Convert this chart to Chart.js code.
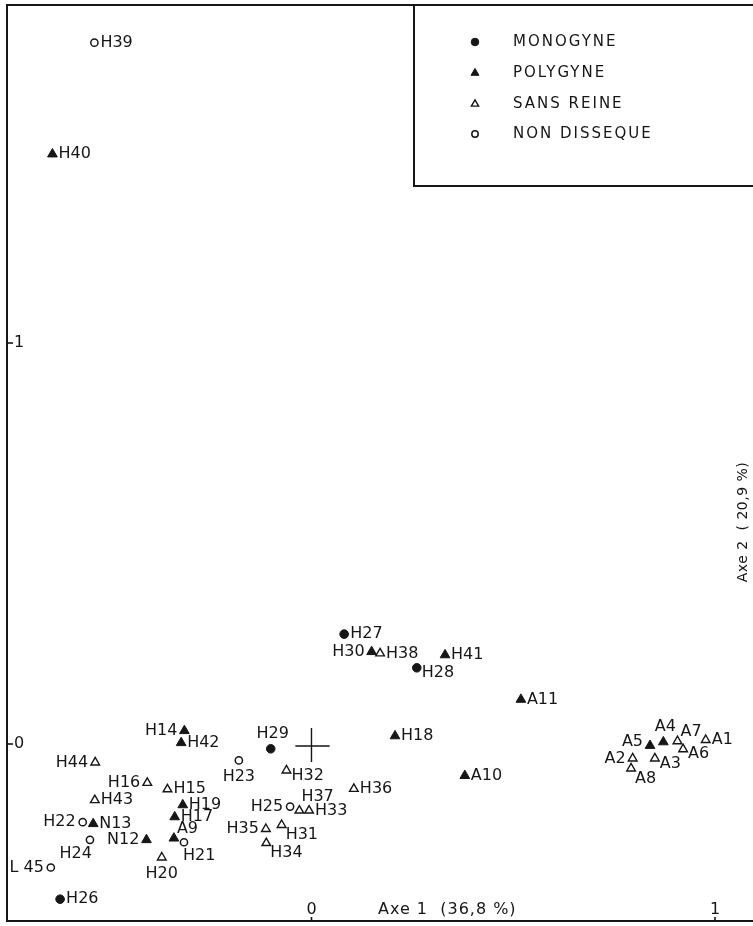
<!DOCTYPE html>
<html><head><meta charset="utf-8">
<script src="https://cdn.jsdelivr.net/npm/chart.js@4.4.0/dist/chart.umd.min.js"></script>
<style>html,body{margin:0;padding:0;background:#fff;overflow:hidden}#wrap{width:753px;height:926px}</style>
</head><body><div id="wrap"><canvas id="c" width="753" height="926"></canvas></div>
<script>
// ---- data ----
const seriesNames = ['MONOGYNE', 'POLYGYNE', 'SANS REINE', 'NON DISSEQUE'];
const pointNames = [
  'H26','H27','H28','H29',
  'H14','H17','H18','H19','H30','H40','H41','H42','N12','N13','A4','A5','A9','A10','A11',
  'H15','H16','H20','H31','H32','H33','H34','H35','H36','H37','H38','H43','H44','A1','A2','A3','A6','A7','A8',
  'H21','H22','H23','H24','H25','H39','L 45'
];
const axe1 = [
  -0.623, 0.081, 0.261, -0.101,
  -0.315, -0.339, 0.207, -0.319, 0.149, -0.642, 0.331, -0.323, -0.409, -0.541, 0.872, 0.839, -0.341, 0.380, 0.519,
  -0.357, -0.407, -0.371, -0.074, -0.062, -0.006, -0.112, -0.113, 0.105, -0.030, 0.170, -0.537, -0.536, 0.977, 0.796, 0.851, 0.921, 0.907, 0.792,
  -0.316, -0.567, -0.180, -0.549, -0.053, -0.538, -0.646
];
const axe2 = [
  -0.387, 0.274, 0.190, -0.012,
  0.033, -0.182, 0.020, -0.152, 0.230, 1.471, 0.222, 0.003, -0.239, -0.199, 0.005, -0.004, -0.235, -0.079, 0.111,
  -0.113, -0.097, -0.283, -0.202, -0.066, -0.166, -0.247, -0.212, -0.112, -0.166, 0.226, -0.140, -0.046, 0.010, -0.036, -0.036, -0.013, 0.007, -0.061,
  -0.245, -0.195, -0.041, -0.239, -0.156, 1.749, -0.308
];
const groups = [
  0,0,0,0,
  1,1,1,1,1,1,1,1,1,1,1,1,1,1,1,
  2,2,2,2,2,2,2,2,2,2,2,2,2,2,2,2,2,2,2,
  3,3,3,3,3,3,3
];
const labelSide = [
  'r','r','rd','a',
  'l','r','r','r','l','r','r','r','l','r','a','lu','ra','r','r',
  'r','l','b','rb','rd','r','rb','l','r','ra2','r','r','l','r','l','rd','rd','ra','rb',
  'rbb','l','b','lb','l','r','l'
];
const xTickValues = [0, 1];
const xTickLabels = ['0', '1'];
const yTickValues = [0, 1];
const yTickLabels = ['0', '1'];
const xAxisTitle = 'Axe 1  (36,8 %)';
const yAxisTitle = 'Axe 2  ( 20,9 %)';

// ---- styles ----
const INK = '#161616';
const seriesStyles = [
  {pointStyle: 'circle',   radius: 4.3, backgroundColor: INK, borderColor: INK, borderWidth: 1},
  {pointStyle: 'triangle', radius: 5.6, backgroundColor: INK, borderColor: INK, borderWidth: 1},
  {pointStyle: 'triangle', radius: 5.0, backgroundColor: '#fff', borderColor: INK, borderWidth: 1.4},
  {pointStyle: 'circle',   radius: 3.6, backgroundColor: '#fff', borderColor: INK, borderWidth: 1.5}
];
const labelPlacement = {
  r:   [6, 0, 'left'],
  rd:  [5, 5, 'left'],
  rb:  [4, 10, 'left'],
  rbb: [-1, 14, 'left'],
  ra:  [3, -9, 'left'],
  ra2: [2, -14, 'left'],
  l:   [-7, 0, 'right'],
  lu:  [-7, -4, 'right'],
  lb:  [2, 14, 'right'],
  a:   [2, -15, 'center'],
  b:   [0, 16, 'center']
};

const datasets = seriesNames.map((name, g) => {
  const data = [];
  pointNames.forEach((n, i) => {
    if (groups[i] === g) data.push({x: axe1[i], y: axe2[i], name: n, side: labelSide[i]});
  });
  const s = seriesStyles[g];
  return {
    label: name, data,
    pointStyle: s.pointStyle, pointRadius: s.radius, pointHoverRadius: s.radius,
    pointBackgroundColor: s.backgroundColor, pointBorderColor: s.borderColor,
    pointBorderWidth: s.borderWidth, showLine: false, clip: false
  };
});

function marker(ctx, style, r, x, y, fill, lw) {
  ctx.save();
  ctx.beginPath();
  if (style === 'circle') {
    ctx.arc(x, y, r, 0, Math.PI * 2);
  } else {
    ctx.moveTo(x, y - r);
    ctx.lineTo(x + r * 0.866, y + r * 0.5);
    ctx.lineTo(x - r * 0.866, y + r * 0.5);
    ctx.closePath();
  }
  ctx.fillStyle = fill;
  ctx.fill();
  ctx.lineWidth = lw;
  ctx.strokeStyle = INK;
  ctx.stroke();
  ctx.restore();
}

const labelPlugin = {
  id: 'pointLabels',
  afterDatasetsDraw(chart) {
    const ctx = chart.ctx;
    ctx.save();
    ctx.font = '16px "DejaVu Sans"';
    ctx.fillStyle = INK;
    ctx.textBaseline = 'middle';
    chart.data.datasets.forEach((ds, di) => {
      const meta = chart.getDatasetMeta(di);
      meta.data.forEach((el, j) => {
        const p = ds.data[j];
        const pl = labelPlacement[p.side] || labelPlacement.r;
        ctx.textAlign = pl[2];
        ctx.fillText(p.name, el.x + pl[0], el.y + pl[1]);
      });
    });
    ctx.restore();
  }
};

const framePlugin = {
  id: 'frame',
  afterDraw(chart) {
    const ctx = chart.ctx;
    const a = chart.chartArea;
    const xs = chart.scales.x, ys = chart.scales.y;
    ctx.save();
    ctx.strokeStyle = INK;
    ctx.fillStyle = INK;
    // frame: left, top, bottom
    ctx.lineWidth = 2;
    ctx.beginPath();
    ctx.moveTo(a.right + 2, a.top);
    ctx.lineTo(a.left, a.top);
    ctx.lineTo(a.left, a.bottom);
    ctx.lineTo(a.right + 2, a.bottom);
    ctx.stroke();
    // legend box
    ctx.beginPath();
    ctx.moveTo(414, a.top);
    ctx.lineTo(414, 186);
    ctx.lineTo(a.right + 2, 186);
    ctx.stroke();
    // crosshair at origin
    ctx.lineWidth = 1.4;
    const ox = xs.getPixelForValue(0), oy = ys.getPixelForValue(0);
    ctx.beginPath();
    ctx.moveTo(xs.getPixelForValue(-0.04), oy + 2);
    ctx.lineTo(xs.getPixelForValue(0.045), oy + 2);
    ctx.moveTo(ox, ys.getPixelForValue(0.04));
    ctx.lineTo(ox, ys.getPixelForValue(-0.045));
    ctx.stroke();
    // ticks
    ctx.lineWidth = 1.6;
    ctx.font = '16px "DejaVu Sans"';
    ctx.textBaseline = 'middle';
    yTickValues.forEach((v, i) => {
      const py = ys.getPixelForValue(v);
      ctx.beginPath();
      ctx.moveTo(a.left, py);
      ctx.lineTo(a.left + 6, py);
      ctx.stroke();
      ctx.textAlign = 'left';
      ctx.fillText(yTickLabels[i], a.left + 7, py);
    });
    xTickValues.forEach((v, i) => {
      const px = xs.getPixelForValue(v);
      ctx.beginPath();
      ctx.moveTo(px, a.bottom);
      ctx.lineTo(px, a.bottom - 4);
      ctx.stroke();
      ctx.textAlign = 'center';
      ctx.fillText(xTickLabels[i], px, a.bottom - 11);
    });
    // axis titles
    ctx.font = '16px "DejaVu Sans"';
    ctx.letterSpacing = '1px';
    ctx.textAlign = 'left';
    ctx.fillText(xAxisTitle, 378, a.bottom - 11);
    ctx.save();
    ctx.translate(743, 522);
    ctx.rotate(-Math.PI / 2);
    ctx.textAlign = 'center';
    ctx.letterSpacing = '0.5px';
    ctx.font = '14px "DejaVu Sans"';
    ctx.fillText(yAxisTitle, 0, 0);
    ctx.restore();
    // legend entries
    ctx.font = '15px "DejaVu Sans"';
    ctx.letterSpacing = '2px';
    ctx.textAlign = 'left';
    const rows = [42, 73, 104, 134];
    const legendR = [3.8, 4.6, 4.2, 3.2];
    chart.data.datasets.forEach((ds, i) => {
      const s = seriesStyles[i];
      marker(ctx, s.pointStyle, legendR[i], 475, rows[i], s.backgroundColor, s.borderWidth);
      ctx.fillStyle = INK;
      ctx.fillText(ds.label, 513, rows[i]);
    });
    ctx.letterSpacing = '0px';
    ctx.restore();
  }
};

// axis range matching the frame of the figure
const X_MIN = -0.7546, X_MAX = 1.0942;
const Y_MIN = -0.4414, Y_MAX = 1.8429;

new Chart(document.getElementById('c').getContext('2d'), {
  type: 'scatter',
  data: {datasets},
  options: {
    responsive: false,
    animation: false,
    devicePixelRatio: 1,
    events: [],
    layout: {autoPadding: false, padding: {left: 7, top: 5, right: 0, bottom: 5}},
    scales: {
      x: {type: 'linear', min: X_MIN, max: X_MAX, display: false},
      y: {type: 'linear', min: Y_MIN, max: Y_MAX, display: false}
    },
    plugins: {legend: {display: false}, tooltip: {enabled: false}}
  },
  plugins: [labelPlugin, framePlugin]
});
</script></body></html>
